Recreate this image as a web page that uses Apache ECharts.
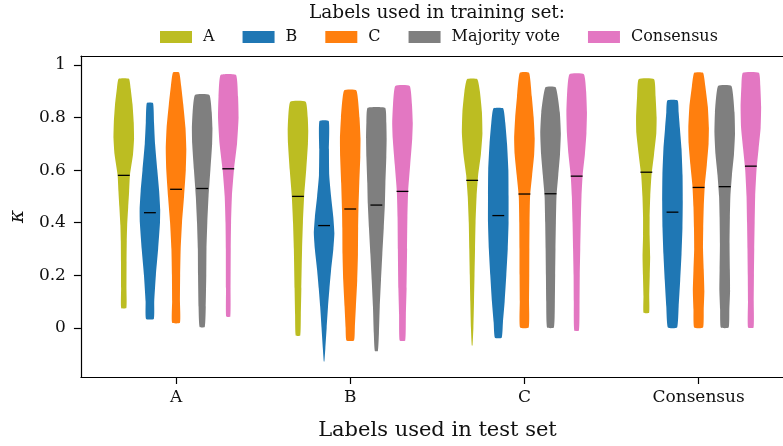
<!DOCTYPE html>
<html>
<head>
<meta charset="utf-8">
<script src="https://cdn.jsdelivr.net/npm/echarts@6/dist/echarts.min.js"></script>
<style>
html,body{margin:0;padding:0;background:#fff;}
#chart{width:783px;height:446px;}
</style>
</head>
<body>
<div id="chart"></div>
<script>
// ---- data ----
const testSets = ['A', 'B', 'C', 'Consensus'];
const trainSets = ['A', 'B', 'C', 'Majority vote', 'Consensus'];
const trainColors = ['#bcbd22', '#1f77b4', '#ff7f0e', '#7f7f7f', '#e377c2'];
const yTicks = [0, 0.2, 0.4, 0.6, 0.8, 1];

// medians per training set, across test sets A, B, C, Consensus
const medianTrainA = [0.580, 0.500, 0.561, 0.592];
const medianTrainB = [0.438, 0.389, 0.427, 0.440];
const medianTrainC = [0.527, 0.452, 0.509, 0.534];
const medianTrainMV = [0.530, 0.467, 0.510, 0.537];
const medianTrainCons = [0.605, 0.519, 0.577, 0.615];

// violin profiles: [kappa, relative half-width], from min to max, per test set
const profileTrainA = [
  [[0.075,0.25],[0.15,0.26],[0.25,0.27],[0.33,0.29],[0.39,0.33],[0.46,0.43],[0.52,0.52],[0.58,0.6],[0.66,0.9],[0.72,1.0],[0.78,0.97],[0.85,0.85],[0.91,0.67],[0.947,0.5]],
  [[-0.029,0.22],[0.05,0.28],[0.15,0.33],[0.3,0.4],[0.4,0.48],[0.5,0.6],[0.6,0.8],[0.7,0.97],[0.75,1.0],[0.8,0.95],[0.86,0.75]],
  [[-0.067,0.04],[0.0,0.12],[0.1,0.18],[0.2,0.23],[0.3,0.28],[0.4,0.33],[0.5,0.43],[0.58,0.58],[0.66,0.85],[0.74,1.0],[0.82,0.95],[0.9,0.75],[0.946,0.5]],
  [[0.057,0.27],[0.12,0.28],[0.2,0.33],[0.27,0.37],[0.35,0.32],[0.42,0.32],[0.5,0.38],[0.58,0.5],[0.66,0.75],[0.74,0.97],[0.8,1.0],[0.88,0.9],[0.946,0.75]]
];
const profileTrainB = [
  [[0.034,0.38],[0.1,0.42],[0.2,0.58],[0.3,0.8],[0.4,0.98],[0.45,1.0],[0.52,0.9],[0.6,0.72],[0.7,0.5],[0.78,0.4],[0.855,0.3]],
  [[-0.128,0.03],[-0.08,0.12],[0.0,0.25],[0.08,0.38],[0.15,0.52],[0.22,0.68],[0.3,0.9],[0.36,1.0],[0.42,0.9],[0.5,0.68],[0.58,0.5],[0.68,0.47],[0.787,0.45]],
  [[-0.038,0.33],[0.02,0.45],[0.1,0.62],[0.2,0.78],[0.3,0.92],[0.4,1.0],[0.5,1.0],[0.6,0.98],[0.7,0.85],[0.78,0.68],[0.835,0.47]],
  [[0.001,0.45],[0.08,0.6],[0.18,0.75],[0.28,0.88],[0.38,0.97],[0.48,1.0],[0.58,0.98],[0.68,0.88],[0.76,0.72],[0.82,0.6],[0.865,0.5]]
];
const profileTrainC = [
  [[0.019,0.38],[0.1,0.38],[0.2,0.4],[0.3,0.45],[0.4,0.58],[0.5,0.78],[0.6,0.95],[0.68,1.0],[0.76,0.92],[0.85,0.7],[0.92,0.5],[0.971,0.3]],
  [[-0.048,0.37],[0.0,0.45],[0.08,0.55],[0.18,0.68],[0.28,0.75],[0.38,0.77],[0.45,0.8],[0.55,0.88],[0.65,0.98],[0.72,1.0],[0.8,0.9],[0.903,0.6]],
  [[0.001,0.42],[0.1,0.45],[0.2,0.47],[0.3,0.48],[0.4,0.5],[0.5,0.55],[0.58,0.75],[0.66,0.95],[0.72,1.0],[0.8,0.9],[0.88,0.72],[0.97,0.45]],
  [[0.001,0.43],[0.07,0.5],[0.14,0.56],[0.22,0.5],[0.3,0.43],[0.38,0.45],[0.46,0.5],[0.54,0.6],[0.62,0.8],[0.7,0.97],[0.76,1.0],[0.84,0.9],[0.92,0.65],[0.97,0.43]]
];
const profileTrainMV = [
  [[0.003,0.25],[0.08,0.35],[0.2,0.4],[0.3,0.42],[0.4,0.5],[0.5,0.62],[0.6,0.8],[0.7,0.97],[0.76,1.0],[0.82,0.93],[0.886,0.7]],
  [[-0.088,0.15],[-0.02,0.25],[0.08,0.33],[0.18,0.45],[0.28,0.58],[0.38,0.72],[0.47,0.83],[0.55,0.88],[0.65,0.97],[0.72,1.0],[0.78,0.97],[0.837,0.85]],
  [[0.001,0.33],[0.1,0.42],[0.2,0.45],[0.3,0.48],[0.4,0.52],[0.5,0.58],[0.58,0.75],[0.66,0.92],[0.74,1.0],[0.82,0.9],[0.915,0.5]],
  [[0.001,0.38],[0.07,0.45],[0.14,0.52],[0.22,0.5],[0.32,0.47],[0.42,0.5],[0.5,0.55],[0.58,0.7],[0.66,0.9],[0.74,1.0],[0.82,0.95],[0.92,0.65]]
];
const profileTrainCons = [
  [[0.043,0.2],[0.15,0.22],[0.3,0.24],[0.4,0.27],[0.5,0.35],[0.6,0.55],[0.7,0.85],[0.8,1.0],[0.88,0.95],[0.962,0.75]],
  [[-0.048,0.27],[0.05,0.33],[0.15,0.4],[0.3,0.45],[0.42,0.48],[0.52,0.55],[0.62,0.75],[0.72,0.95],[0.78,1.0],[0.85,0.92],[0.92,0.7]],
  [[-0.01,0.23],[0.1,0.28],[0.2,0.3],[0.3,0.35],[0.4,0.4],[0.5,0.47],[0.58,0.58],[0.66,0.8],[0.74,0.95],[0.82,1.0],[0.9,0.92],[0.965,0.7]],
  [[0.001,0.27],[0.1,0.28],[0.2,0.3],[0.3,0.33],[0.4,0.37],[0.5,0.42],[0.6,0.55],[0.68,0.75],[0.76,0.95],[0.84,1.0],[0.92,0.92],[0.97,0.78]]
];

const medians = [medianTrainA, medianTrainB, medianTrainC, medianTrainMV, medianTrainCons];
const profiles = [profileTrainA, profileTrainB, profileTrainC, profileTrainMV, profileTrainCons];
const offsets = [-0.3, -0.15, 0, 0.15, 0.3];
const halfW = 0.059;      // max half-width of a violin (x units)
const medHalf = 0.034;    // half-length of median mark

const SERIF = "'DejaVu Serif', serif";

const chart = echarts.init(document.getElementById('chart'), null, {renderer: 'canvas'});

function makeRender(s) {
  return function (params, api) {
    const g = api.value(0);
    const prof = profiles[s][g];
    const cx = g + offsets[s];
    const right = prof.map(p => api.coord([cx + p[1] * halfW, p[0]]));
    const left = prof.slice().reverse().map(p => api.coord([cx - p[1] * halfW, p[0]]));
    const m = api.value(1);
    const a = api.coord([cx - medHalf, m]);
    const b = api.coord([cx + medHalf, m]);
    return {
      type: 'group',
      children: [
        {type: 'polygon', shape: {points: right.concat(left), smooth: 0.15},
         style: {fill: trainColors[s], stroke: null}},
        {type: 'line', shape: {x1: a[0], y1: a[1], x2: b[0], y2: b[1]},
         style: {stroke: '#000', lineWidth: 1.3}}
      ]
    };
  };
}

const series = trainSets.map((name, s) => ({
  type: 'custom',
  name: name,
  xAxisIndex: 0,
  itemStyle: {color: trainColors[s]},
  renderItem: makeRender(s),
  encode: {x: 0, y: 1},
  data: testSets.map((t, g) => [g, medians[s][g]])
}));

const axisLineStyle = {color: '#000', width: 1.2};

const option = {
  animation: false,
  backgroundColor: '#fff',
  graphic: [{
    type: 'text', x: 437, y: 13,
    style: {text: 'Labels used in training set:', font: "18.5px 'DejaVu Serif', serif",
            fill: '#111', textAlign: 'center', textVerticalAlign: 'middle'}
  }],
  legend: {
    left: 160, top: 28, padding: 0,
    icon: 'rect', itemWidth: 32, itemHeight: 12, itemGap: 28,
    textStyle: {fontFamily: SERIF, fontSize: 16, color: '#111', padding: [0, 0, 0, 6], lineHeight: 18},
    data: trainSets
  },
  grid: {left: 79, right: 0, top: 56, bottom: 68, containLabel: false},
  xAxis: [{
    type: 'value', min: -0.546, max: 3.4845,
    name: 'Labels used in test set', nameLocation: 'middle', nameGap: 43,
    nameTextStyle: {fontFamily: SERIF, fontSize: 21, color: '#111', padding: [0, 0, 0, 11]},
    axisLine: {show: true, onZero: false, lineStyle: axisLineStyle},
    axisTick: {show: true, length: 7, lineStyle: axisLineStyle, customValues: [0, 1, 2, 3]},
    axisLabel: {fontFamily: SERIF, fontSize: 17, color: '#111', margin: 12, customValues: [0, 1, 2, 3],
                formatter: v => testSets[Math.round(v)]},
    splitLine: {show: false}
  }, {
    type: 'value', position: 'top', min: -0.546, max: 3.4845,
    axisLine: {show: true, onZero: false, lineStyle: axisLineStyle},
    axisTick: {show: false}, axisLabel: {show: false}, splitLine: {show: false}
  }],
  yAxis: {
    type: 'value', min: -0.187, max: 1.034,
    name: 'κ', nameLocation: 'middle', nameGap: 52, nameRotate: 90,
    nameTextStyle: {fontFamily: SERIF, fontSize: 20, fontStyle: 'italic', color: '#111'},
    axisLine: {show: true, onZero: false, lineStyle: axisLineStyle},
    axisTick: {show: true, length: 7, lineStyle: axisLineStyle, customValues: yTicks},
    axisLabel: {fontFamily: SERIF, fontSize: 17, color: '#111', margin: 15, customValues: yTicks,
                formatter: v => String(Math.round(v * 10) / 10)},
    splitLine: {show: false}
  },
  series: series
};
chart.setOption(option);
</script>
</body>
</html>
